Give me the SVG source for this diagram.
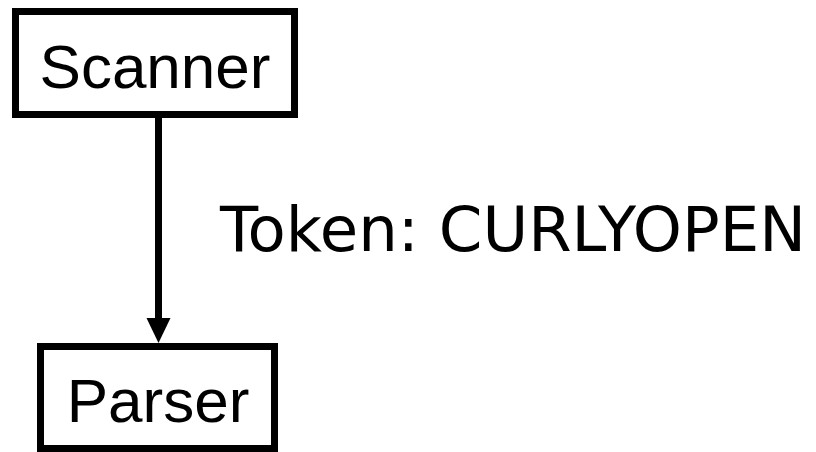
<svg xmlns="http://www.w3.org/2000/svg" width="816" height="452" viewBox="0 0 816 452">
  <style>
    .box { fill: #ffffff; stroke: #000000; stroke-width: 7; }
    .name { font-family: "Liberation Sans", Arial, sans-serif; font-size: 62px; fill: #000000; }
    .edge { stroke: #000000; stroke-width: 7; fill: none; }
    .label { font-family: "Comic Sans MS", "DejaVu Sans", sans-serif; font-size: 62px; fill: #000000; }
  </style>
  <defs>
    <marker id="arrow" markerUnits="userSpaceOnUse" markerWidth="25" markerHeight="24" refX="1" refY="12" orient="auto" overflow="visible">
      <path d="M0,0 L25,12 L0,24 Z" fill="#000000"/>
    </marker>
  </defs>
  <rect width="816" height="452" fill="#ffffff"/>

  <g id="edges">
    <line class="edge" x1="158.5" y1="118" x2="158.5" y2="319" marker-end="url(#arrow)"/>
    <text class="label" x="220" y="251" textLength="586" lengthAdjust="spacingAndGlyphs">Token: CURLYOPEN</text>
  </g>

  <g id="scanner">
    <rect class="box" x="15.5" y="11.5" width="279" height="103"/>
    <text class="name" x="155" y="88" text-anchor="middle">Scanner</text>
  </g>

  <g id="parser">
    <rect class="box" x="40.5" y="346.5" width="234" height="102"/>
    <text class="name" x="158" y="422" text-anchor="middle">Parser</text>
  </g>
</svg>
